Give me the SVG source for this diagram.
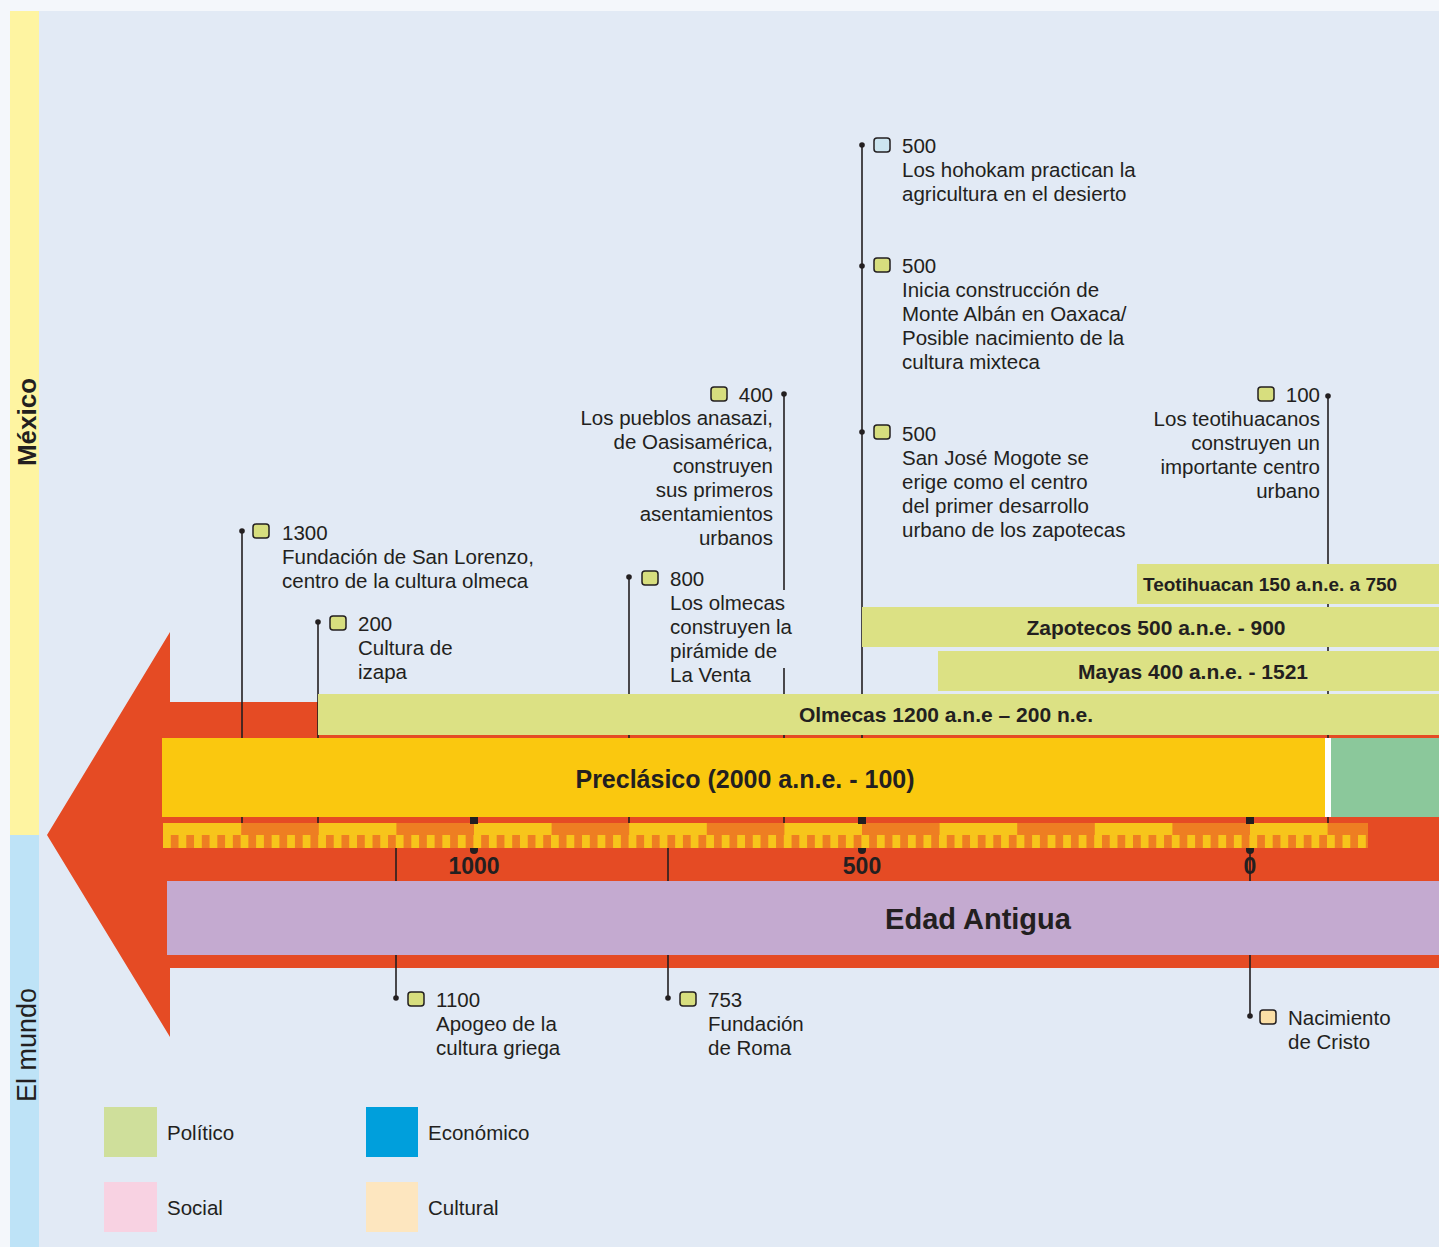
<svg xmlns="http://www.w3.org/2000/svg" width="1439" height="1247" viewBox="0 0 1439 1247">
<defs>
<style>
.t{font-family:"Liberation Sans",Arial,sans-serif;font-size:20.5px;fill:#231F20}
.r{text-anchor:end}
.b{font-family:"Liberation Sans",Arial,sans-serif;font-weight:bold;fill:#231F20;text-anchor:middle}
.ln{stroke:#231F20;stroke-width:1.6;fill:none}
.ic{stroke:#231F20;stroke-width:1.5}
.g{fill:#D7DE7E}
.bar{fill:#DCE184}
</style>
<pattern id="teeth" x="163" y="835" width="15.52" height="13" patternUnits="userSpaceOnUse">
<rect x="0" y="0" width="7.76" height="13" fill="#F7C51B"/>
<rect x="7.76" y="0" width="7.76" height="13" fill="#EE7E22"/>
</pattern>
</defs>
<rect x="0" y="0" width="1439" height="1247" fill="#F4F7FB"/>
<rect x="10" y="11" width="1429" height="1236" fill="#E2EAF5"/>
<g id="band-mexico">
<rect x="10" y="11" width="29" height="824" fill="#FEF4A1"/>
<text transform="translate(36,422) rotate(-90)" class="b" style="font-size:26px">México</text>
</g>
<g id="band-mundo">
<rect x="10" y="835" width="29" height="412" fill="#BEE3F7"/>
<text transform="translate(36,1045) rotate(-90)" class="t" style="font-size:27px;text-anchor:middle">El mundo</text>
</g>
<g id="arrow">
<polygon points="47,835 170,632 170,702 1439,702 1439,968 170,968 170,1037" fill="#E54B24"/>
</g>
<g id="connectors">
<line class="ln" x1="242" y1="531" x2="242" y2="824"/>
<line class="ln" x1="318" y1="622" x2="318" y2="824"/>
<line class="ln" x1="629" y1="577" x2="629" y2="824"/>
<line class="ln" x1="784" y1="394" x2="784" y2="590"/>
<line class="ln" x1="784" y1="668" x2="784" y2="824"/>
<line class="ln" x1="862" y1="145" x2="862" y2="824"/>
<line class="ln" x1="1328" y1="396" x2="1328" y2="824"/>
<line class="ln" x1="396" y1="848" x2="396" y2="998"/>
<line class="ln" x1="668" y1="848" x2="668" y2="998"/>
<line class="ln" x1="1250" y1="848" x2="1250" y2="1016"/>
<g fill="#231F20">
<circle cx="242" cy="531" r="2.8"/>
<circle cx="318" cy="622" r="2.8"/>
<circle cx="629" cy="577" r="2.8"/>
<circle cx="784" cy="394" r="2.8"/>
<circle cx="862" cy="145" r="2.8"/>
<circle cx="862" cy="266" r="2.8"/>
<circle cx="862" cy="432" r="2.8"/>
<circle cx="1328" cy="396" r="2.8"/>
<circle cx="396" cy="998" r="2.8"/>
<circle cx="668" cy="998" r="2.8"/>
<circle cx="1250" cy="1016" r="2.8"/>
</g>
</g>
<g id="bar-teotihuacan">
<rect class="bar" x="1137" y="564" width="302" height="40"/>
<text x="1143" y="591" class="b" style="font-size:19px;text-anchor:start">Teotihuacan 150 a.n.e. a 750</text>
</g>
<g id="bar-zapotecos">
<rect class="bar" x="862" y="607" width="577" height="40"/>
<text x="1156" y="635" class="b" style="font-size:21px">Zapotecos 500 a.n.e. - 900</text>
</g>
<g id="bar-mayas">
<rect class="bar" x="938" y="651" width="501" height="40"/>
<text x="1193" y="679" class="b" style="font-size:21px">Mayas 400 a.n.e. - 1521</text>
</g>
<g id="bar-olmecas">
<rect class="bar" x="318" y="694" width="1121" height="41"/>
<text x="946" y="722" class="b" style="font-size:21px">Olmecas 1200 a.n.e – 200 n.e.</text>
</g>
<g id="bar-preclasico">
<rect x="162" y="738" width="1163" height="79" fill="#FAC80F"/>
<rect x="1325" y="738" width="6" height="79" fill="#FFFFFF"/>
<rect x="1331" y="738" width="108" height="79" fill="#8BC89B"/>
<text x="745" y="788" class="b" style="font-size:25px">Preclásico (2000 a.n.e. - 100)</text>
</g>
<g id="ruler">
<rect x="163" y="823" width="1205" height="12" fill="#F7C51B"/>
<g fill="#EE7E22">
<rect x="241.2" y="823" width="77.6" height="12"/>
<rect x="396.4" y="823" width="77.6" height="12"/>
<rect x="551.6" y="823" width="77.6" height="12"/>
<rect x="706.8" y="823" width="77.6" height="12"/>
<rect x="862" y="823" width="77.6" height="12"/>
<rect x="1017.2" y="823" width="77.6" height="12"/>
<rect x="1172.4" y="823" width="77.6" height="12"/>
<rect x="1327.6" y="823" width="40.4" height="12"/>
</g>
<rect x="163" y="835" width="1205" height="13" fill="url(#teeth)"/>
<g fill="#231F20">
<rect x="470" y="817" width="8" height="7"/>
<rect x="858" y="817" width="8" height="7"/>
<rect x="1246" y="817" width="8" height="7"/>
<path d="M470,848 h8 v2 a4,4 0 0 1 -8,0 z"/>
<path d="M858,848 h8 v2 a4,4 0 0 1 -8,0 z"/>
<path d="M1246,848 h8 v2 a4,4 0 0 1 -8,0 z"/>
</g>
<text x="474" y="874" class="b" style="font-size:23px">1000</text>
<text x="862" y="874" class="b" style="font-size:23px">500</text>
<text x="1250" y="874" class="b" style="font-size:23px">0</text>
</g>
<g id="bar-edad-antigua">
<rect x="167" y="881" width="1272" height="74" fill="#C4AAD0"/>
<text x="978" y="929" class="b" style="font-size:29px">Edad Antigua</text>
</g>
<g id="event-1300">
<rect class="ic g" x="253" y="524" width="16" height="14" rx="3"/>
<text class="t" x="282" y="540">1300</text>
<text class="t" x="282" y="564">Fundación de San Lorenzo,</text>
<text class="t" x="282" y="588">centro de la cultura olmeca</text>
</g>
<g id="event-200">
<rect class="ic g" x="330" y="616" width="16" height="14" rx="3"/>
<text class="t" x="358" y="631">200</text>
<text class="t" x="358" y="655">Cultura de</text>
<text class="t" x="358" y="679">izapa</text>
</g>
<g id="event-800">
<rect class="ic g" x="642" y="571" width="16" height="14" rx="3"/>
<text class="t" x="670" y="586">800</text>
<text class="t" x="670" y="610">Los olmecas</text>
<text class="t" x="670" y="634">construyen la</text>
<text class="t" x="670" y="658">pirámide de</text>
<text class="t" x="670" y="682">La Venta</text>
</g>
<g id="event-400">
<rect class="ic g" x="711" y="387" width="16" height="14" rx="3"/>
<text class="t r" x="773" y="402">400</text>
<text class="t r" x="773" y="425">Los pueblos anasazi,</text>
<text class="t r" x="773" y="449">de Oasisamérica,</text>
<text class="t r" x="773" y="473">construyen</text>
<text class="t r" x="773" y="497">sus primeros</text>
<text class="t r" x="773" y="521">asentamientos</text>
<text class="t r" x="773" y="545">urbanos</text>
</g>
<g id="event-500-hohokam">
<rect class="ic" x="874" y="138" width="16" height="14" rx="3" fill="#CCE5F0"/>
<text class="t" x="902" y="153">500</text>
<text class="t" x="902" y="177">Los hohokam practican la</text>
<text class="t" x="902" y="201">agricultura en el desierto</text>
</g>
<g id="event-500-montealban">
<rect class="ic g" x="874" y="258" width="16" height="14" rx="3"/>
<text class="t" x="902" y="273">500</text>
<text class="t" x="902" y="297">Inicia construcción de</text>
<text class="t" x="902" y="321">Monte Albán en Oaxaca/</text>
<text class="t" x="902" y="345">Posible nacimiento de la</text>
<text class="t" x="902" y="369">cultura mixteca</text>
</g>
<g id="event-500-mogote">
<rect class="ic g" x="874" y="425" width="16" height="14" rx="3"/>
<text class="t" x="902" y="441">500</text>
<text class="t" x="902" y="465">San José Mogote se</text>
<text class="t" x="902" y="489">erige como el centro</text>
<text class="t" x="902" y="513">del primer desarrollo</text>
<text class="t" x="902" y="537">urbano de los zapotecas</text>
</g>
<g id="event-100">
<rect class="ic g" x="1258" y="387" width="16" height="14" rx="3"/>
<text class="t r" x="1320" y="402">100</text>
<text class="t r" x="1320" y="426">Los teotihuacanos</text>
<text class="t r" x="1320" y="450">construyen un</text>
<text class="t r" x="1320" y="474">importante centro</text>
<text class="t r" x="1320" y="498">urbano</text>
</g>
<g id="event-1100">
<rect class="ic g" x="408" y="992" width="16" height="14" rx="3"/>
<text class="t" x="436" y="1007">1100</text>
<text class="t" x="436" y="1031">Apogeo de la</text>
<text class="t" x="436" y="1055">cultura griega</text>
</g>
<g id="event-753">
<rect class="ic g" x="680" y="992" width="16" height="14" rx="3"/>
<text class="t" x="708" y="1007">753</text>
<text class="t" x="708" y="1031">Fundación</text>
<text class="t" x="708" y="1055">de Roma</text>
</g>
<g id="event-cristo">
<rect class="ic" x="1260" y="1010" width="16" height="14" rx="3" fill="#FBDFA6"/>
<text class="t" x="1288" y="1025">Nacimiento</text>
<text class="t" x="1288" y="1049">de Cristo</text>
</g>
<g id="legend">
<rect x="104" y="1107" width="53" height="50" fill="#CFDF9B"/>
<text class="t" x="167" y="1140">Político</text>
<rect x="366" y="1107" width="52" height="50" fill="#009FDC"/>
<text class="t" x="428" y="1140">Económico</text>
<rect x="104" y="1182" width="53" height="50" fill="#F8D2E2"/>
<text class="t" x="167" y="1215">Social</text>
<rect x="366" y="1182" width="52" height="50" fill="#FDE6BF"/>
<text class="t" x="428" y="1215">Cultural</text>
</g>
</svg>
